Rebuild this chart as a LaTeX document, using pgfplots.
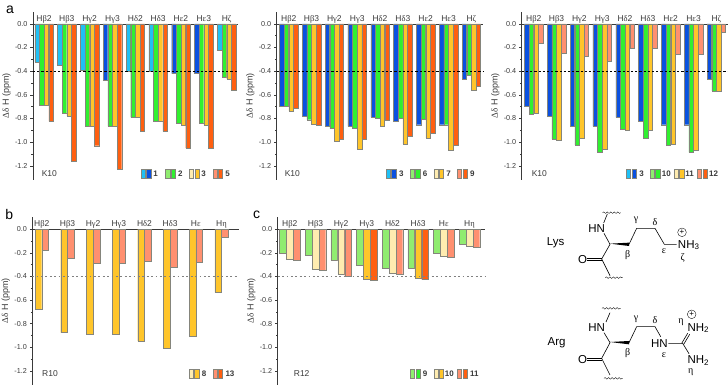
\documentclass[border=0pt]{standalone}
\usepackage{fontspec}
\setmainfont{Liberation Sans}
\newfontfamily\gk{Liberation Serif}
\usepackage{pgfplots}
\pgfplotsset{compat=1.18}
\usetikzlibrary{decorations.pathmorphing}
\definecolor{cCy}{HTML}{1FC0F5}
\definecolor{cBl}{HTML}{0A50E0}
\definecolor{cLg}{HTML}{90EC70}
\definecolor{cGr}{HTML}{30F030}
\definecolor{cCr}{HTML}{FFECB0}
\definecolor{cYe}{HTML}{FFC52A}
\definecolor{cSa}{HTML}{FF9070}
\definecolor{cOr}{HTML}{FF5F10}
\definecolor{cEd}{HTML}{85857C}
\definecolor{cTx}{HTML}{3A3A3A}
\newcommand\G[1]{{\gk #1}}
\newcommand\fs[1]{\fontsize{#1}{#1}\selectfont}
\pgfplotsset{
  panel/.style={scale only axis, axis x line=middle, axis y line=left, axis line style={-,cTx,line width=0.5pt},
    enlargelimits=false, ytick={-1.2,-1.0,...,0.01}, minor y tick num=1,
    tick align=outside, major tick length=2.5pt, minor tick length=1.5pt,
    tick style={cTx,line width=0.4pt}, xtick style={draw=none},
    xtick={0,1,2,3,4,5,6,7,8},
    yticklabel style={/pgf/number format/fixed,/pgf/number format/fixed zerofill,/pgf/number format/precision=1,
       /pgf/number format/assume math mode=true,font=\fs{7.2},text=cTx,xshift=0.5pt},
    xticklabel style={font=\fs{8.5},text=cTx,anchor=base,yshift=5pt},
    ylabel={\G{Δδ} H (ppm)},
    every axis y label/.style={at={(axis description cs:0,0.5)},anchor=center,xshift=-26.5pt,rotate=90,font=\fs{9},text=cTx},
    clip=false},
  bA/.style={ybar,bar width=4.5pt,draw=cEd,line width=0.3pt,fill=#1},
  bB/.style={ybar,bar width=6.7pt,draw=cEd,line width=0.3pt,fill=#1},
  lysl/.style={xticklabels={H\G{β}2,H\G{β}3,H\G{γ}2,H\G{γ}3,H\G{δ}2,H\G{δ}3,H\G{ε}2,H\G{ε}3,H\G{ζ}}},
  argl/.style={xticklabels={H\G{β}2,H\G{β}3,H\G{γ}2,H\G{γ}3,H\G{δ}2,H\G{δ}3,H\G{ε},H\G{η}}},
  dashA/.style={sharp plot,no marks,black,line width=0.5pt,dash pattern=on 2.2pt off 2pt},
  dashB/.style={sharp plot,no marks,gray,line width=0.8pt,dash pattern=on 1.8pt off 2.6pt},
}
% legend entry in zoomed coordinates: x1, x2, c1, c2, text x, label
\newcommand\sw[7]{%
  \fill[#3,draw=cEd,line width=0.35pt] (#1,#7) rectangle ++(13,26);
  \fill[#4,draw=cEd,line width=0.35pt] (#2,#7) rectangle ++(13,26);
  \node[font=\fs{8}\bfseries,text=cTx,anchor=center] at (#5,#7+13) {#6};}
\begin{document}
\begin{tikzpicture}
\clip (0,0) rectangle (728pt,385pt);
\path (0,0) rectangle (728pt,385pt);

% ---------- a1
\begin{axis}[panel,lysl,at={(33pt,205pt)},width=205pt,height=168pt,xmin=-0.482,xmax=8.5,ymin=-1.32,ymax=0.1]
\addplot[bA=cCy,bar shift=-7pt] coordinates {(0,-0.324)(1,-0.35)(2,-0.39)(4,-0.397)(5,-0.397)(8,-0.22)};
\addplot[bA=cBl,bar shift=-7pt] coordinates {(3,-0.48)(6,-0.42)(7,-0.42)};
\addplot[bA=cGr,bar shift=-2.33pt] coordinates {(0,-0.685)(1,-0.757)(2,-0.867)(3,-0.867)(4,-0.79)(5,-0.82)(6,-0.84)(7,-0.84)(8,-0.453)};
\addplot[bA=cYe,bar shift=2.33pt] coordinates {(0,-0.69)(1,-0.78)(2,-0.867)(3,-0.867)(4,-0.79)(5,-0.82)(6,-0.856)(7,-0.856)(8,-0.467)};
\addplot[bA=cOr,bar shift=7pt] coordinates {(0,-0.825)(1,-1.163)(2,-1.03)(3,-1.228)(4,-0.91)(5,-0.91)(6,-1.05)(7,-1.05)(8,-0.56)};
\addplot[dashA] coordinates {(-0.482,-0.4)(8.5,-0.4)};
\end{axis}
% ---------- a2
\begin{axis}[panel,lysl,at={(276.7pt,205pt)},width=206.3pt,height=168pt,xmin=-0.526,xmax=8.51,ymin=-1.32,ymax=0.1]
\addplot[bA=cBl,bar shift=-7pt] coordinates {(0,-0.693)(1,-0.78)(2,-0.867)(3,-0.867)(4,-0.79)(5,-0.82)(6,-0.853)(7,-0.853)(8,-0.468)};
\addplot[bA=cGr,bar shift=-2.33pt] coordinates {(0,-0.70)(1,-0.81)(2,-0.885)(3,-0.885)(4,-0.80)(5,-0.80)(6,-0.806)(7,-0.853)(8,-0.437)};
\addplot[bA=cYe,bar shift=2.33pt] coordinates {(0,-0.738)(1,-0.845)(2,-0.99)(3,-1.056)(4,-0.867)(5,-1.014)(6,-0.963)(7,-1.068)(8,-0.56)};
\addplot[bA=cOr,bar shift=7pt] coordinates {(0,-0.713)(1,-0.86)(2,-0.975)(3,-0.975)(4,-0.814)(5,-0.95)(6,-0.924)(7,-1.025)(8,-0.527)};
\addplot[dashA] coordinates {(-0.526,-0.4)(8.51,-0.4)};
\end{axis}
% ---------- a3
\begin{axis}[panel,lysl,at={(521.7pt,205pt)},width=206.3pt,height=168pt,xmin=-0.526,xmax=8.51,ymin=-1.32,ymax=0.1]
\addplot[bA=cBl,bar shift=-7pt] coordinates {(0,-0.693)(1,-0.78)(2,-0.867)(3,-0.867)(4,-0.79)(5,-0.82)(6,-0.853)(7,-0.853)(8,-0.468)};
\addplot[bA=cGr,bar shift=-2.33pt] coordinates {(0,-0.766)(1,-0.975)(2,-1.023)(3,-1.085)(4,-0.893)(5,-0.963)(6,-1.025)(7,-1.087)(8,-0.566)};
\addplot[bA=cYe,bar shift=2.33pt] coordinates {(0,-0.755)(1,-0.986)(2,-0.966)(3,-1.06)(4,-0.899)(5,-0.896)(6,-1.014)(7,-1.065)(8,-0.566)};
\addplot[bA=cSa,bar shift=7pt] coordinates {(0,-0.166)(1,-0.245)(2,-0.273)(3,-0.316)(4,-0.206)(5,-0.206)(6,-0.256)(7,-0.256)(8,-0.07)};
\addplot[dashA] coordinates {(-0.526,-0.4)(8.51,-0.4)};
\end{axis}
% ---------- b
\begin{axis}[panel,argl,at={(32.3pt,0pt)},width=206.4pt,height=168pt,xmin=-0.37,xmax=7.67,ymin=-1.32,ymax=0.104]
\addplot[bB=cYe,bar shift=-3.4pt] coordinates {(0,-0.678)(1,-0.876)(2,-0.887)(3,-0.887)(4,-0.949)(5,-1.008)(6,-0.907)(7,-0.534)};
\addplot[bB=cSa,bar shift=3.4pt] coordinates {(0,-0.178)(1,-0.246)(2,-0.288)(3,-0.288)(4,-0.271)(5,-0.322)(6,-0.28)(7,-0.068)};
\addplot[dashB] coordinates {(-0.37,-0.4)(7.67,-0.4)};
\end{axis}
% ---------- c
\begin{axis}[panel,argl,at={(277.7pt,0pt)},width=207.3pt,height=168pt,xmin=-0.471,xmax=7.604,ymin=-1.32,ymax=0.104]
\addplot[bB=cLg,bar shift=-6.9pt] coordinates {(0,-0.203)(1,-0.22)(2,-0.263)(3,-0.308)(4,-0.33)(5,-0.33)(6,-0.203)(7,-0.124)};
\addplot[bB=cCr,bar shift=0pt] coordinates {(0,-0.254)(1,-0.339)(2,-0.378)(4,-0.376)(6,-0.229)(7,-0.141)};
\addplot[bB=cYe,bar shift=0pt] coordinates {(3,-0.424)(5,-0.412)};
\addplot[bB=cSa,bar shift=6.9pt] coordinates {(0,-0.266)(1,-0.347)(2,-0.395)(4,-0.381)(6,-0.234)(7,-0.15)};
\addplot[bB=cOr,bar shift=6.9pt] coordinates {(3,-0.432)(5,-0.427)};
\addplot[dashB] coordinates {(-0.471,-0.4)(7.604,-0.4)};
\end{axis}

% ---------- annotations, zoomed-crop coordinates (3 units = 1 px)
\begin{scope}[shift={(0pt,385pt)},x=0.33333pt,y=-0.33333pt]
\node[font=\fs{14}] at (30,30) {a};
\node[font=\fs{8.5},text=cTx] at (148,520) {K10};
\sw{424}{440}{cCy}{cBl}{467}{1}{508}
\sw{497}{513}{cLg}{cGr}{541}{2}{508}
\sw{567}{585}{cCr}{cYe}{611}{3}{508}
\sw{640}{655}{cSa}{cOr}{683}{5}{508}
\end{scope}
\begin{scope}[shift={(240pt,385pt)},x=0.33333pt,y=-0.33333pt]
\node[font=\fs{8.5},text=cTx] at (157,520) {K10};
\sw{438}{455}{cCy}{cBl}{484}{3}{508}
\sw{510}{527}{cLg}{cGr}{555}{6}{508}
\sw{582}{598}{cCr}{cYe}{626}{7}{508}
\sw{652}{670}{cSa}{cOr}{697}{9}{508}
\end{scope}
\begin{scope}[shift={(480pt,385pt)},x=0.33333pt,y=-0.33333pt]
\node[font=\fs{8.5},text=cTx] at (178,520) {K10};
\sw{439}{456}{cCy}{cBl}{485}{3}{508}
\sw{510}{527}{cLg}{cGr}{559}{10}{508}
\sw{583}{599}{cCr}{cYe}{629}{11}{508}
\sw{652}{670}{cSa}{cOr}{701}{12}{508}
\end{scope}
\begin{scope}[shift={(0pt,195pt)},x=0.33333pt,y=-0.33333pt]
\node[font=\fs{14}] at (28,75) {b};
\node[font=\fs{8.5},text=cTx] at (150,550) {R10};
\sw{567}{584}{cCr}{cYe}{612}{8}{538}
\sw{640}{655}{cSa}{cOr}{690}{13}{538}
\end{scope}
\begin{scope}[shift={(240pt,195pt)},x=0.33333pt,y=-0.33333pt]
\node[font=\fs{14}] at (50,75) {c};
\node[font=\fs{8.5},text=cTx] at (185,550) {R12};
\sw{510}{528}{cLg}{cGr}{555}{9}{538}
\sw{582}{598}{cCr}{cYe}{628}{10}{538}
\sw{652}{670}{cSa}{cOr}{703}{11}{538}
\end{scope}

% ---------- structures
\begin{scope}[shift={(500pt,195pt)},x=0.33333pt,y=-0.33333pt,line width=0.6pt,
   wav/.style={decorate,decoration={snake,amplitude=0.8pt,segment length=3.5pt},line width=0.35pt}]
% Lys
\node[font=\fs{11.5}] at (167,158) {Lys};
\node[font=\fs{11.5}] at (290,116) {HN};
\node[font=\fs{11.5}] at (248,210) {O};
\node[font=\fs{11.5},anchor=west,inner sep=0pt] at (533,165) {NH\raisebox{-1.5pt}{\fs{8}3}};
\node[font=\fs{8},inner sep=0pt] at (546,127) {+};
\draw[line width=0.35pt] (546,127) circle (13);
\draw (312,130)--(330,163);
\draw (322,72)--(311,99);
\draw[wav] (308,68)--(362,68);
\fill (330,161)--(387,158)--(387,168)--cycle;
\draw (387,163)--(410,115)--(465,115)--(493,163)--(530,163);
\draw (330,163)--(305,207)--(330,257);
\draw (262,205)--(305,205) (262,212)--(305,212);
\draw[wav] (316,263)--(368,263);
\node[font=\fs{10}\gk] at (408,92) {γ};
\node[font=\fs{10}\gk] at (465,96) {δ};
\node[font=\fs{10}\gk] at (383,194) {β};
\node[font=\fs{10}\gk] at (492,183) {ε};
\node[font=\fs{10}\gk] at (548,205) {ζ};
% Arg
\node[font=\fs{11.5}] at (170,458) {Arg};
\node[font=\fs{11.5}] at (290,412) {HN};
\node[font=\fs{11.5}] at (248,508) {O};
\node[font=\fs{11.5}] at (478,460) {HN};
\node[font=\fs{11.5},anchor=west,inner sep=0pt] at (562,414) {NH\raisebox{-1.5pt}{\fs{8}2}};
\node[font=\fs{11.5},anchor=west,inner sep=0pt] at (562,511) {NH\raisebox{-1.5pt}{\fs{8}2}};
\node[font=\fs{8},inner sep=0pt] at (575,373) {+};
\draw[line width=0.35pt] (575,373) circle (13);
\draw (312,428)--(330,458);
\draw (330,368)--(318,396);
\draw[wav] (306,355)--(362,355);
\fill (330,456)--(387,453)--(387,463)--cycle;
\draw (387,458)--(410,410)--(465,410)--(482,440);
\draw (330,458)--(305,505)--(330,555);
\draw (262,504)--(305,504) (262,511)--(305,511);
\draw[wav] (312,565)--(368,565);
\draw (505,460)--(548,460)--(567,491);
\draw (545,460)--(563,430) (551,463)--(569,433);
\node[font=\fs{10}\gk] at (408,388) {γ};
\node[font=\fs{10}\gk] at (465,390) {δ};
\node[font=\fs{10}\gk] at (383,490) {β};
\node[font=\fs{10}\gk] at (492,495) {ε};
\node[font=\fs{10}\gk] at (543,396) {η};
\node[font=\fs{10}\gk] at (572,548) {η};
\end{scope}
\end{tikzpicture}
\end{document}
